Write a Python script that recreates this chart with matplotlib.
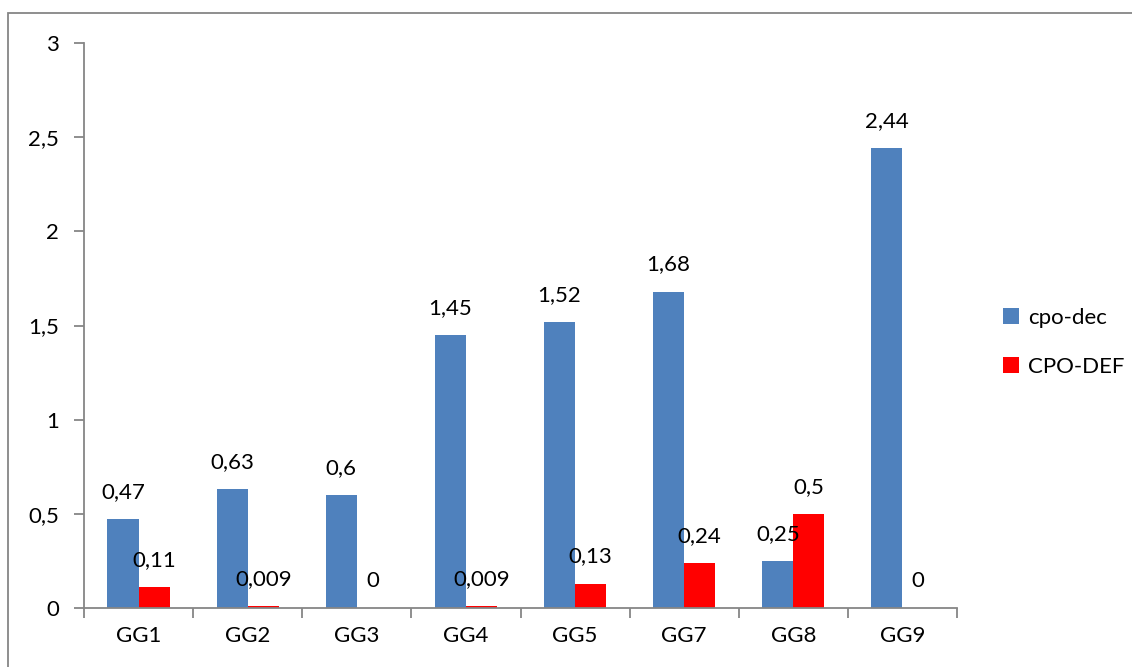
import matplotlib
matplotlib.use("Agg")
import matplotlib.pyplot as plt
from matplotlib.patches import Rectangle
import numpy as np

categories = ["GG1", "GG2", "GG3", "GG4", "GG5", "GG7", "GG8", "GG9"]
cpo_dec = [0.47, 0.63, 0.6, 1.45, 1.52, 1.68, 0.25, 2.44]
cpo_def = [0.11, 0.009, 0, 0.009, 0.13, 0.24, 0.5, 0]
dec_labels = ["0,47", "0,63", "0,6", "1,45", "1,52", "1,68", "0,25", "2,44"]
def_labels = ["0,11", "0,009", "0", "0,009", "0,13", "0,24", "0,5", "0"]
yticks = [0, 0.5, 1, 1.5, 2, 2.5, 3]
ytick_labels = ["0", "0,5", "1", "1,5", "2", "2,5", "3"]

plt.rcParams['font.family'] = ['Lato', 'DejaVu Sans']
fs = 16
grey = "#868686"

fig = plt.figure(figsize=(11.32, 6.67), dpi=100)
ax = fig.add_axes([84/1132, 1 - 608/667, (957 - 84)/1132, (608 - 43)/667])

# outer chart border (cut off on right and bottom like the original)
fig.patches.append(Rectangle((8/1132, -0.2), 1.5, 1.2 - 13/667, transform=fig.transFigure,
                             fill=False, edgecolor=grey, linewidth=1.3))

x = np.arange(len(categories))
w = 0.285
b1 = ax.bar(x - w/2, cpo_dec, w, color="#4F81BD", label="cpo-dec")
b2 = ax.bar(x + w/2, cpo_def, w, color="#FF0000", label="CPO-DEF")

for rect, lab in zip(b1, dec_labels):
    ax.annotate(lab, (rect.get_x() + rect.get_width()/2, rect.get_height()),
                xytext=(0, 19.5), textcoords="offset points", ha="center", va="center", fontsize=fs)
for rect, lab in zip(b2, def_labels):
    ax.annotate(lab, (rect.get_x() + rect.get_width()/2, rect.get_height()),
                xytext=(0, 19.5), textcoords="offset points", ha="center", va="center", fontsize=fs)

ax.set_xlim(-0.5, len(categories) - 0.5)
ax.set_ylim(0, 3)
ax.set_yticks(yticks)
ax.set_yticklabels(ytick_labels, fontsize=fs)
ax.set_xticks(x)
ax.set_xticklabels(categories, fontsize=fs)
ax.set_xticks(np.arange(len(categories) + 1) - 0.5, minor=True)
ax.tick_params(axis="x", which="major", length=0, pad=13)
ax.tick_params(axis="x", which="minor", length=7, color=grey, width=1.3)
ax.tick_params(axis="y", length=7, color=grey, width=1.3, pad=11)

for s in ["top", "right"]:
    ax.spines[s].set_visible(False)
for s in ["left", "bottom"]:
    ax.spines[s].set_color(grey)
    ax.spines[s].set_linewidth(1.3)

leg = ax.legend(loc="center left", bbox_to_anchor=(1.03, 0.47), frameon=False, fontsize=fs,
                handlelength=0.7, handleheight=0.7, handletextpad=0.4, labelspacing=1.3)

fig.savefig("out.png", dpi=100)
